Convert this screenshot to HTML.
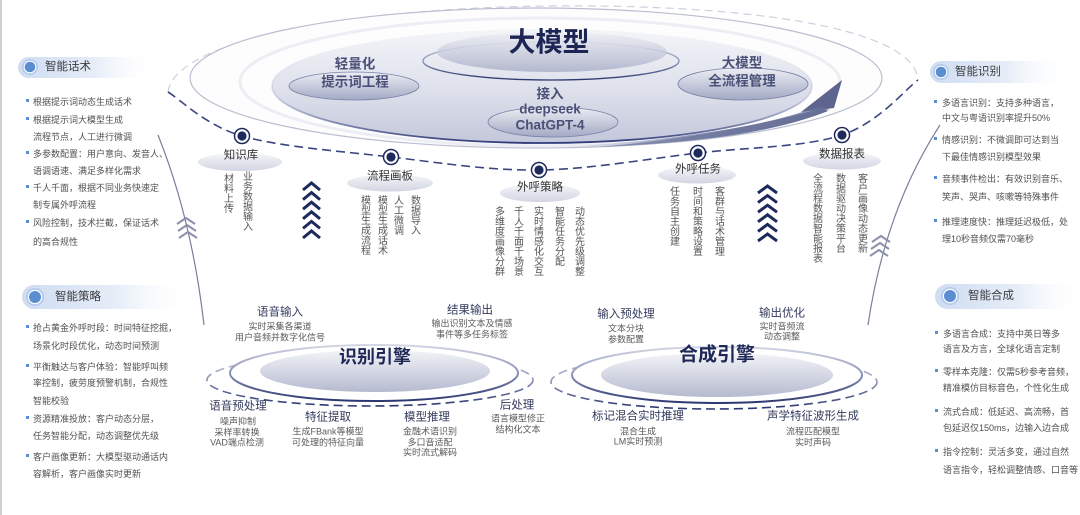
<!DOCTYPE html>
<html><head><meta charset="utf-8">
<style>
html,body{margin:0;padding:0;background:#fff;}
#w{position:relative;width:1080px;height:515px;overflow:hidden;background:#fff;font-family:"Liberation Sans","Noto Sans CJK SC",sans-serif;}
.c{position:absolute;transform:translate(-50%,-50%);white-space:nowrap;line-height:1;}
.l{position:absolute;white-space:nowrap;font-size:9px;line-height:12px;color:#505050;}
.v{position:absolute;width:10px;font-size:10px;line-height:10px;color:#555;word-break:break-all;}
.b{position:absolute;width:3px;height:3px;background:#5b8dd1;}
.t{position:absolute;white-space:nowrap;font-size:11.5px;line-height:14px;color:#3c3c3c;}
.nl{font-size:11.5px;color:#333;}
.el{font-size:11.5px;color:#333a5c;}
.es{font-size:9px;color:#5a5a5a;}
.tb{font-size:13.5px;font-weight:bold;color:#4a5077;}
</style></head><body>
<div id="w">
<svg width="1080" height="515" style="position:absolute;left:0;top:0">
<defs>
 <linearGradient id="gMain" x1="0" y1="0" x2="0" y2="1">
  <stop offset="0" stop-color="#f4f5f9"/><stop offset="0.55" stop-color="#dde0eb"/><stop offset="1" stop-color="#c3c7da"/>
 </linearGradient>
 <linearGradient id="gSmall" x1="0" y1="0" x2="0" y2="1">
  <stop offset="0" stop-color="#eceef4"/><stop offset="1" stop-color="#a3a9c4"/>
 </linearGradient>
 <linearGradient id="gNode" x1="0" y1="0" x2="0" y2="1">
  <stop offset="0" stop-color="#f5f6fa"/><stop offset="1" stop-color="#d2d5e2"/>
 </linearGradient>
 <linearGradient id="gEng" x1="0" y1="0" x2="0" y2="1">
  <stop offset="0" stop-color="#f3f4f8"/><stop offset="1" stop-color="#b5bacf"/>
 </linearGradient>
 <linearGradient id="gRing" x1="0" y1="0" x2="0" y2="1">
  <stop offset="0" stop-color="#d3d6e4"/><stop offset="0.5" stop-color="#8a91b5"/><stop offset="1" stop-color="#2c3770"/>
 </linearGradient>
 <linearGradient id="gBot" x1="0" y1="0" x2="0" y2="1">
  <stop offset="0" stop-color="#ffffff" stop-opacity="0"/><stop offset="0.6" stop-color="#9aa0c0" stop-opacity="0.4"/><stop offset="1" stop-color="#2f3a78"/>
 </linearGradient>
 <linearGradient id="gArrow" x1="0" y1="0" x2="1" y2="0">
  <stop offset="0" stop-color="#c9cddd" stop-opacity="0.3"/><stop offset="0.5" stop-color="#8d94b6"/><stop offset="1" stop-color="#5d658f"/>
 </linearGradient>
 <linearGradient id="gPill" x1="0" y1="0" x2="1" y2="0">
  <stop offset="0" stop-color="#cfdcf2"/><stop offset="0.55" stop-color="#e6edf8"/><stop offset="1" stop-color="#ffffff" stop-opacity="0"/>
 </linearGradient>
</defs>

<line x1="1" y1="0" x2="1" y2="515" stroke="#cfcfcf" stroke-width="2"/>

<!-- faint top of orbit -->
<path d="M168,92 C175,40 350,8 550,6 C760,4 915,30 918,80" fill="none" stroke="#cdd0de" stroke-width="1.2" stroke-dasharray="8 5"/>
<!-- outer ellipse -->
<ellipse cx="536" cy="78" rx="346" ry="70" fill="#fdfdfe" stroke="#b9bdd0" stroke-width="1.2"/>
<ellipse cx="540" cy="82" rx="300" ry="64" fill="none" stroke="#eceef4" stroke-width="3"/>
<!-- main ellipse -->
<ellipse cx="542" cy="86" rx="270" ry="57" fill="url(#gMain)"/>
<ellipse cx="542" cy="86" rx="270" ry="57" fill="none" stroke="url(#gBot)" stroke-width="1.8"/>
<!-- big model -->
<ellipse cx="551" cy="61" rx="128" ry="19" fill="none" stroke="url(#gRing)" stroke-width="1.3"/>
<ellipse cx="552" cy="52" rx="115" ry="20" fill="url(#gSmall)" opacity="0.75"/>
<!-- small ellipses -->
<ellipse cx="354" cy="86" rx="65" ry="14" fill="url(#gSmall)" stroke="#7a81a8" stroke-width="0.8"/>
<ellipse cx="743" cy="84" rx="65" ry="16" fill="url(#gSmall)" stroke="#7a81a8" stroke-width="0.8"/>
<ellipse cx="553" cy="122" rx="65" ry="15" fill="url(#gSmall)" stroke="#7a81a8" stroke-width="0.8"/>
<!-- arrow swoosh -->
<path d="M560,147 Q740,146 828,111 L822,108 Q720,138 560,147 Z" fill="url(#gArrow)"/>
<path d="M842,80 L801,112 L816,110 L834,108 Z" fill="#5d658f"/>
<path d="M600,147 Q760,140 830,109 L818,107 Q740,134 600,147 Z" fill="#6a729a" opacity="0.7"/>

<!-- orbit dashed -->
<path d="M168,92 C180.3,99.3 204.8,125.2 242,136 C279.2,146.8 341.5,151.3 391,157 C440.5,162.7 487.8,170.7 539,170 C590.2,169.3 647.5,158.8 698,153 C748.5,147.2 805.3,147.2 842,135 C878.7,122.8 905.3,89.2 918,80" fill="none" stroke="#3b4680" stroke-width="1.6" stroke-dasharray="9 5"/>

<!-- node label ellipses -->
<ellipse cx="240" cy="162" rx="42" ry="9" fill="url(#gNode)"/>
<ellipse cx="390" cy="183" rx="43" ry="8.5" fill="url(#gNode)"/>
<ellipse cx="540" cy="193" rx="40" ry="9" fill="url(#gNode)"/>
<ellipse cx="697" cy="175" rx="39" ry="8.5" fill="url(#gNode)"/>
<ellipse cx="842" cy="161" rx="39" ry="8.5" fill="url(#gNode)"/>

<!-- nodes -->
<g fill="#fff" stroke="#1e2a5c" stroke-width="1.5">
 <circle cx="242" cy="136" r="7.5"/><circle cx="391" cy="157" r="7.5"/><circle cx="539" cy="170" r="7.5"/><circle cx="698" cy="153" r="7.5"/><circle cx="842" cy="135" r="7.5"/>
</g>
<g fill="#1e2a5c">
 <circle cx="242" cy="136" r="4.6"/><circle cx="391" cy="157" r="4.6"/><circle cx="539" cy="170" r="4.6"/><circle cx="698" cy="153" r="4.6"/><circle cx="842" cy="135" r="4.6"/>
</g>

<!-- side curves -->
<path d="M158,135 Q192,220 204,325" fill="none" stroke="#7a7f99" stroke-width="1.2"/>
<path d="M940,125 Q885,210 868,325" fill="none" stroke="#7a7f99" stroke-width="1.2"/>
<g fill="none" stroke="#8b90ab" stroke-width="2">
 <path d="M177,224 L186,218 L195,224"/><path d="M178,231 L187,225 L196,231"/><path d="M179,238 L188,232 L197,238"/>
 <path d="M872,242 L881,236 L890,242"/><path d="M871,249 L880,243 L889,249"/><path d="M870,256 L879,250 L888,256"/>
</g>
<!-- navy chevron stacks -->
<g fill="none" stroke="#1f2a5c" stroke-width="3">
 <path d="M303,190 L311.5,183 L320,190"/><path d="M303,199.6 L311.5,192.6 L320,199.6"/><path d="M303,209.2 L311.5,202.2 L320,209.2"/><path d="M303,218.8 L311.5,211.8 L320,218.8"/><path d="M303,228.4 L311.5,221.4 L320,228.4"/><path d="M303,238 L311.5,231 L320,238"/>
 <path d="M758,193 L767.5,186 L777,193"/><path d="M758,202.6 L767.5,195.6 L777,202.6"/><path d="M758,212.2 L767.5,205.2 L777,212.2"/><path d="M758,221.8 L767.5,214.8 L777,221.8"/><path d="M758,231.4 L767.5,224.4 L777,231.4"/><path d="M758,241 L767.5,234 L777,241"/>
</g>

<!-- engines -->
<ellipse cx="370" cy="380" rx="163" ry="26" fill="none" stroke="url(#gRing)" stroke-width="1.6" stroke-dasharray="9 5"/>
<ellipse cx="374" cy="373" rx="144" ry="28" fill="#fff" stroke="url(#gRing)" stroke-width="2"/>
<ellipse cx="375" cy="371" rx="115" ry="21" fill="url(#gEng)"/>
<ellipse cx="714" cy="382" rx="163" ry="27" fill="none" stroke="url(#gRing)" stroke-width="1.6" stroke-dasharray="9 5"/>
<ellipse cx="717" cy="375" rx="145" ry="28" fill="#fff" stroke="url(#gRing)" stroke-width="2"/>
<ellipse cx="717" cy="375" rx="116" ry="22" fill="url(#gEng)"/>

<!-- pills -->
<rect x="18" y="57" width="140" height="21" rx="10.5" fill="url(#gPill)"/>
<rect x="22" y="285" width="170" height="24" rx="12" fill="url(#gPill)"/>
<rect x="930" y="61" width="140" height="22" rx="11" fill="url(#gPill)"/>
<rect x="935" y="284" width="150" height="25" rx="12.5" fill="url(#gPill)"/>
<g>
 <circle cx="30" cy="67" r="8" fill="#b3caee"/><circle cx="30" cy="67" r="6.3" fill="#fff"/><circle cx="30" cy="67" r="5.3" fill="#5b8dd1"/>
 <circle cx="35" cy="297" r="9" fill="#b3caee"/><circle cx="35" cy="297" r="7.2" fill="#fff"/><circle cx="35" cy="297" r="6" fill="#5b8dd1"/>
 <circle cx="941" cy="72" r="8" fill="#b3caee"/><circle cx="941" cy="72" r="6.3" fill="#fff"/><circle cx="941" cy="72" r="5.3" fill="#5b8dd1"/>
 <circle cx="950" cy="296" r="9" fill="#b3caee"/><circle cx="950" cy="296" r="7.2" fill="#fff"/><circle cx="950" cy="296" r="6" fill="#5b8dd1"/>
</g>
</svg>

<!-- top texts -->
<div class="c" style="left:549px;top:43px;font-size:27px;font-weight:bold;color:#1c2553;">大模型</div>
<div class="c tb" style="left:355px;top:64px;">轻量化</div>
<div class="c tb" style="left:355px;top:82px;">提示词工程</div>
<div class="c tb" style="left:742px;top:63px;">大模型</div>
<div class="c tb" style="left:742px;top:81px;">全流程管理</div>
<div class="c tb" style="left:550px;top:94px;">接入</div>
<div class="c tb" style="left:550px;top:109px;">deepseek</div>
<div class="c tb" style="left:550px;top:125px;">ChatGPT-4</div>

<!-- node labels -->
<div class="c nl" style="left:241px;top:156px;">知识库</div>
<div class="c nl" style="left:390px;top:177px;">流程画板</div>
<div class="c nl" style="left:540px;top:188px;">外呼策略</div>
<div class="c nl" style="left:698px;top:170px;">外呼任务</div>
<div class="c nl" style="left:842px;top:155px;">数据报表</div>

<!-- vertical columns -->
<div class="v" style="left:224px;top:175px;">材料上传</div>
<div class="v" style="left:243px;top:173px;">业务数据输入</div>
<div class="v" style="left:361px;top:197px;">模型生成流程</div>
<div class="v" style="left:378px;top:197px;">模型生成话术</div>
<div class="v" style="left:394px;top:197px;">人工微调</div>
<div class="v" style="left:411px;top:197px;">数据导入</div>
<div class="v" style="left:495px;top:208px;">多维度画像分群</div>
<div class="v" style="left:514px;top:208px;">千人千面千场景</div>
<div class="v" style="left:534px;top:208px;">实时情感化交互</div>
<div class="v" style="left:555px;top:208px;">智能任务分配</div>
<div class="v" style="left:575px;top:208px;">动态优先级调整</div>
<div class="v" style="left:670px;top:188px;">任务自主创建</div>
<div class="v" style="left:693px;top:188px;">时间和策略设置</div>
<div class="v" style="left:715px;top:188px;">客群与话术管理</div>
<div class="v" style="left:813px;top:175px;">全流程数据智能报表</div>
<div class="v" style="left:836px;top:175px;">数据驱动决策平台</div>
<div class="v" style="left:858px;top:175px;">客户画像动态更新</div>

<!-- recognition engine -->
<div class="c" style="left:375px;top:357px;font-size:18px;font-weight:bold;color:#1f2857;">识别引擎</div>
<div class="c el" style="left:280px;top:313px;">语音输入</div>
<div class="c es" style="left:280px;top:327px;">实时采集各渠道</div>
<div class="c es" style="left:280px;top:338px;">用户音频并数字化信号</div>
<div class="c el" style="left:470px;top:311px;">结果输出</div>
<div class="c es" style="left:472px;top:324px;">输出识别文本及情感</div>
<div class="c es" style="left:472px;top:335px;">事件等多任务标签</div>
<div class="c el" style="left:238px;top:407px;">语音预处理</div>
<div class="c es" style="left:238px;top:422px;">噪声抑制</div>
<div class="c es" style="left:237px;top:433px;">采样率转换</div>
<div class="c es" style="left:237px;top:443px;">VAD端点检测</div>
<div class="c el" style="left:328px;top:418px;">特征提取</div>
<div class="c es" style="left:328px;top:432px;">生成FBank等模型</div>
<div class="c es" style="left:328px;top:443px;">可处理的特征向量</div>
<div class="c el" style="left:427px;top:418px;">模型推理</div>
<div class="c es" style="left:430px;top:432px;">金融术语识别</div>
<div class="c es" style="left:430px;top:443px;">多口音适配</div>
<div class="c es" style="left:430px;top:453px;">实时流式解码</div>
<div class="c el" style="left:517px;top:406px;">后处理</div>
<div class="c es" style="left:518px;top:419px;">语言模型修正</div>
<div class="c es" style="left:518px;top:430px;">结构化文本</div>

<!-- synthesis engine -->
<div class="c" style="left:717px;top:355px;font-size:19px;font-weight:bold;color:#1f2857;">合成引擎</div>
<div class="c el" style="left:626px;top:315px;">输入预处理</div>
<div class="c es" style="left:626px;top:329px;">文本分块</div>
<div class="c es" style="left:626px;top:340px;">参数配置</div>
<div class="c el" style="left:782px;top:314px;">输出优化</div>
<div class="c es" style="left:782px;top:327px;">实时音频流</div>
<div class="c es" style="left:782px;top:337px;">动态调整</div>
<div class="c el" style="left:638px;top:417px;">标记混合实时推理</div>
<div class="c es" style="left:638px;top:432px;">混合生成</div>
<div class="c es" style="left:638px;top:442px;">LM实时预测</div>
<div class="c el" style="left:813px;top:417px;">声学特征波形生成</div>
<div class="c es" style="left:813px;top:432px;">流程匹配模型</div>
<div class="c es" style="left:813px;top:443px;">实时声码</div>

<!-- left top panel -->
<div class="t" style="left:45px;top:60px;">智能话术</div>
<div class="b" style="left:26px;top:99px;"></div>
<div class="b" style="left:26px;top:117px;"></div>
<div class="b" style="left:26px;top:151px;"></div>
<div class="b" style="left:26px;top:185px;"></div>
<div class="b" style="left:26px;top:220px;"></div>
<div class="l" style="left:33px;top:96px;">根据提示词动态生成话术</div>
<div class="l" style="left:33px;top:114px;">根据提示词大模型生成</div>
<div class="l" style="left:33px;top:131px;">流程节点，人工进行微调</div>
<div class="l" style="left:33px;top:148px;">多参数配置：用户意向、发音人、</div>
<div class="l" style="left:33px;top:165px;">语调语速、满足多样化需求</div>
<div class="l" style="left:33px;top:182px;">千人千面，根据不同业务快速定</div>
<div class="l" style="left:33px;top:199px;">制专属外呼流程</div>
<div class="l" style="left:33px;top:217px;">风险控制，技术拦截，保证话术</div>
<div class="l" style="left:33px;top:236px;">的高合规性</div>

<!-- left bottom panel -->
<div class="t" style="left:55px;top:290px;">智能策略</div>
<div class="b" style="left:26px;top:325px;"></div>
<div class="b" style="left:26px;top:364px;"></div>
<div class="b" style="left:26px;top:416px;"></div>
<div class="b" style="left:26px;top:454px;"></div>
<div class="l" style="left:33px;top:322px;">抢占黄金外呼时段：时间特征挖掘，</div>
<div class="l" style="left:33px;top:340px;">场景化时段优化，动态时间预测</div>
<div class="l" style="left:33px;top:361px;">平衡触达与客户体验：智能呼叫频</div>
<div class="l" style="left:33px;top:377px;">率控制，疲劳度预警机制，合规性</div>
<div class="l" style="left:33px;top:395px;">智能校验</div>
<div class="l" style="left:33px;top:413px;">资源精准投放：客户动态分层，</div>
<div class="l" style="left:33px;top:430px;">任务智能分配，动态调整优先级</div>
<div class="l" style="left:33px;top:451px;">客户画像更新：大模型驱动通话内</div>
<div class="l" style="left:33px;top:468px;">容解析，客户画像实时更新</div>

<!-- right top panel -->
<div class="t" style="left:955px;top:65px;">智能识别</div>
<div class="b" style="left:934px;top:100px;"></div>
<div class="b" style="left:934px;top:137px;"></div>
<div class="b" style="left:934px;top:176px;"></div>
<div class="b" style="left:934px;top:219px;"></div>
<div class="l" style="left:942px;top:97px;">多语言识别：支持多种语言，</div>
<div class="l" style="left:942px;top:112px;">中文与粤语识别率提升50%</div>
<div class="l" style="left:942px;top:134px;">情感识别：不微调即可达到当</div>
<div class="l" style="left:942px;top:151px;">下最佳情感识别模型效果</div>
<div class="l" style="left:942px;top:173px;">音频事件检出：有效识别音乐、</div>
<div class="l" style="left:942px;top:191px;">笑声、哭声、咳嗽等特殊事件</div>
<div class="l" style="left:942px;top:216px;">推理速度快：推理延迟极低，处</div>
<div class="l" style="left:942px;top:233px;">理10秒音频仅需70毫秒</div>

<!-- right bottom panel -->
<div class="t" style="left:968px;top:289px;">智能合成</div>
<div class="b" style="left:935px;top:331px;"></div>
<div class="b" style="left:935px;top:369px;"></div>
<div class="b" style="left:935px;top:409px;"></div>
<div class="b" style="left:935px;top:449px;"></div>
<div class="l" style="left:943px;top:328px;">多语言合成：支持中英日等多</div>
<div class="l" style="left:943px;top:343px;">语言及方言，全球化语言定制</div>
<div class="l" style="left:943px;top:366px;">零样本克隆：仅需5秒参考音频，</div>
<div class="l" style="left:943px;top:382px;">精准模仿目标音色，个性化生成</div>
<div class="l" style="left:943px;top:406px;">流式合成：低延迟、高流畅，首</div>
<div class="l" style="left:943px;top:422px;">包延迟仅150ms，边输入边合成</div>
<div class="l" style="left:943px;top:446px;">指令控制：灵活多变，通过自然</div>
<div class="l" style="left:943px;top:464px;">语言指令，轻松调整情感、口音等</div>
</div>
</body></html>
